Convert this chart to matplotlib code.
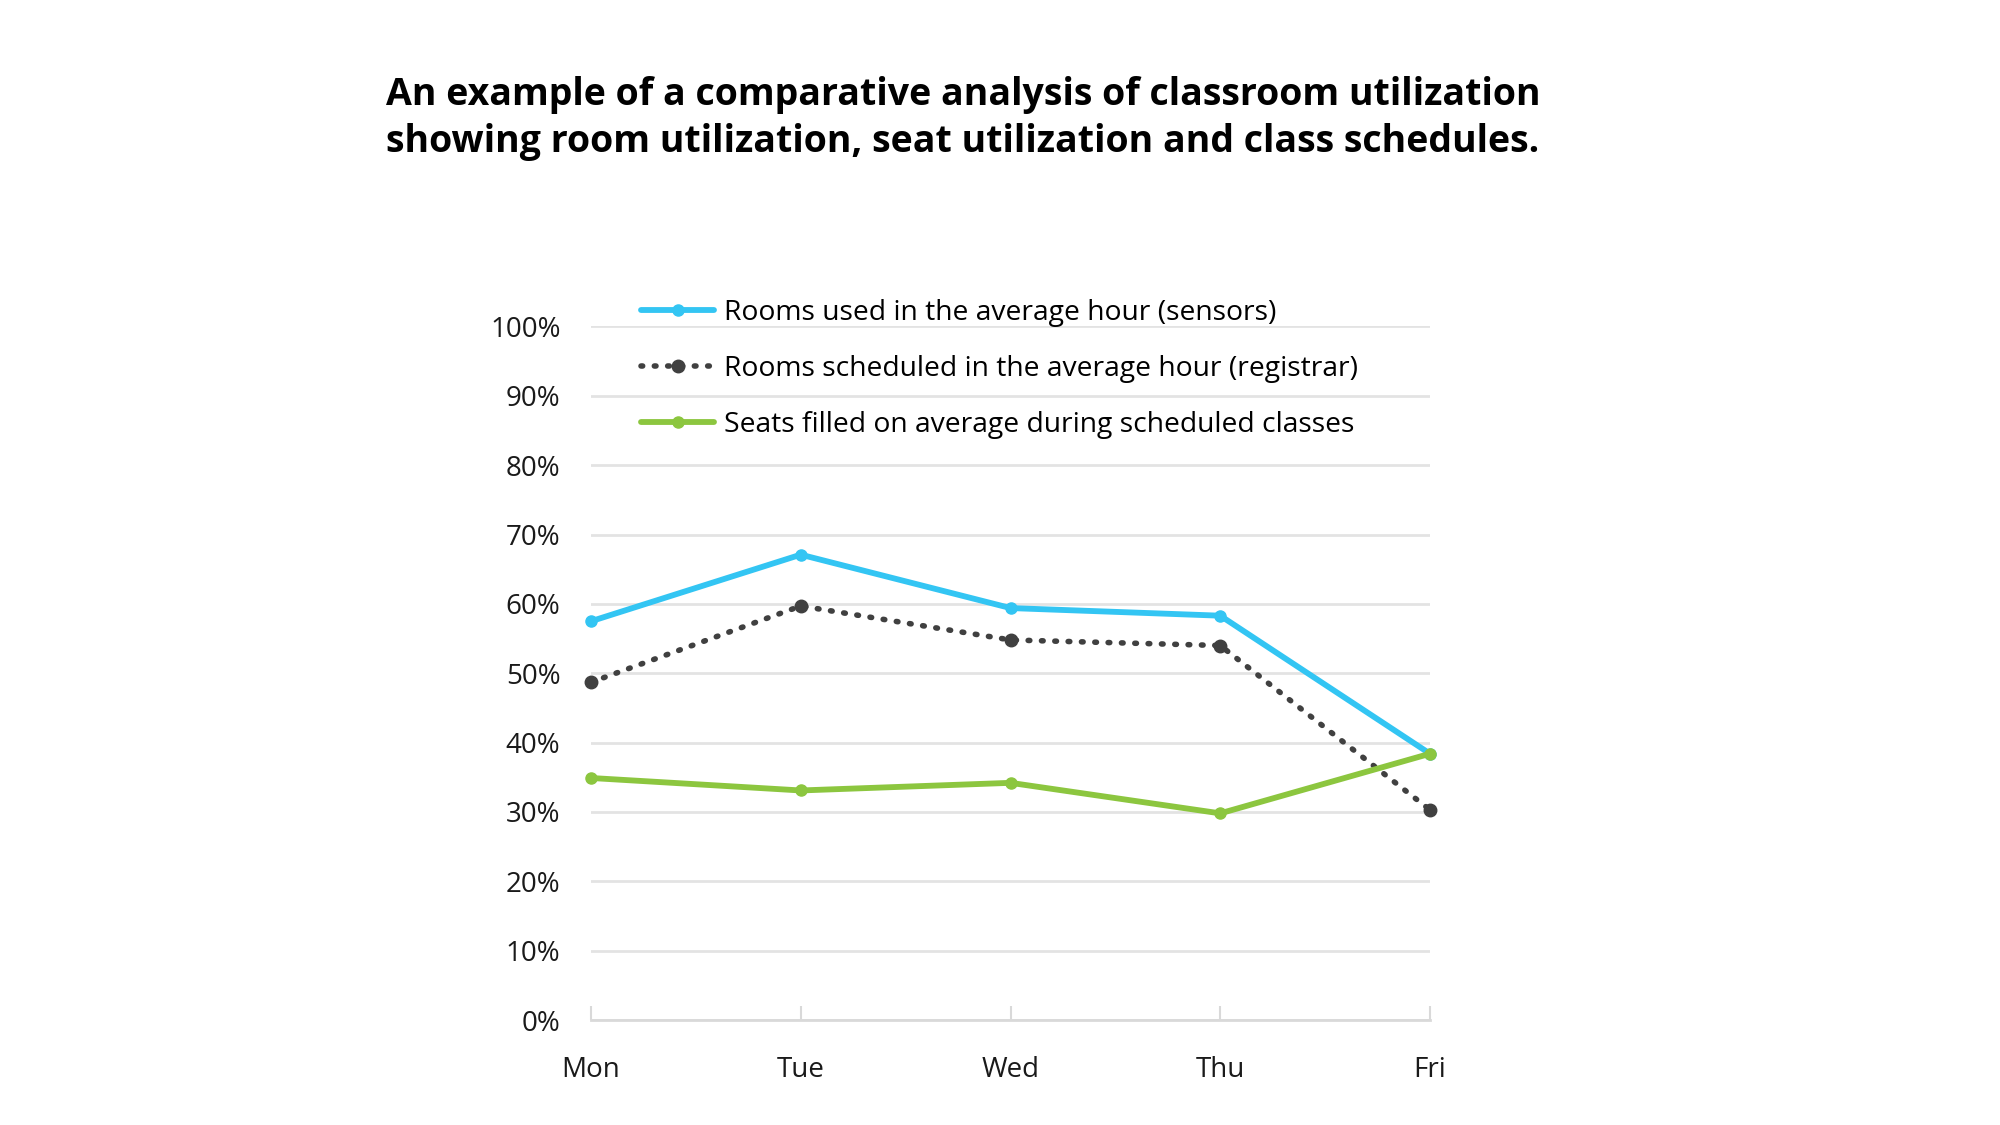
import matplotlib.pyplot as plt
from matplotlib.ticker import PercentFormatter

days = ["Mon", "Tue", "Wed", "Thu", "Fri"]
rooms_used = [57.5, 67.1, 59.4, 58.3, 38.4]
rooms_scheduled = [48.7, 59.7, 54.8, 54.0, 30.3]
seats_filled = [34.9, 33.1, 34.2, 29.8, 38.4]
labels = ["Rooms used in the average hour (sensors)",
          "Rooms scheduled in the average hour (registrar)",
          "Seats filled on average during scheduled classes"]

plt.rcParams['font.family'] = ['Open Sans', 'DejaVu Sans']

fig = plt.figure(figsize=(20, 11.25), dpi=100)
ax = fig.add_axes([0.2955, 0.0933, 0.4195, 0.6165])

x = range(len(days))
ax.plot(x, rooms_used, color="#33c5f3", lw=4.2, marker="o", ms=8,
        solid_capstyle="round", label=labels[0], zorder=3)
ax.plot(x, rooms_scheduled, color="#404040", lw=4.0, marker="o", ms=9,
        linestyle=(0, (0.3, 2.1)), dash_capstyle="round", label=labels[1], zorder=3)
ax.plot(x, seats_filled, color="#8cc63f", lw=4.2, marker="o", ms=8,
        solid_capstyle="round", label=labels[2], zorder=4)

ax.set_xlim(0, 4)
ax.set_ylim(0, 100)
ax.set_yticks(range(0, 101, 10))
ax.yaxis.set_major_formatter(PercentFormatter(decimals=0))
ax.set_xticks(list(x))
ax.set_xticklabels(days)
ax.grid(axis="y", color="#e3e3e3", lw=2)
ax.set_axisbelow(True)
for s in ["top", "right", "left"]:
    ax.spines[s].set_visible(False)
ax.spines["bottom"].set_color("#d9d9d9")
ax.spines["bottom"].set_linewidth(2)
ax.tick_params(axis="y", length=0, pad=22, labelsize=20, labelcolor="#1a1a1a")
ax.tick_params(axis="x", direction="in", length=10, width=1.5, color="#d9d9d9",
               pad=26, labelsize=20, labelcolor="#1a1a1a")
for line in ax.lines:
    line.set_clip_on(False)

ax.legend(loc="upper left", bbox_to_anchor=(0.046, 1.056), frameon=False,
          fontsize=20.3, handlelength=2.6, handletextpad=0.35, labelspacing=1.0,
          borderaxespad=0)

fig.text(0.4815, 0.932, "An example of a comparative analysis of classroom utilization\n"
         "showing room utilization, seat utilization and class schedules.",
         ha="center", va="top", fontsize=27, fontweight="bold", linespacing=1.3)

fig.savefig("out.png", dpi=100)
